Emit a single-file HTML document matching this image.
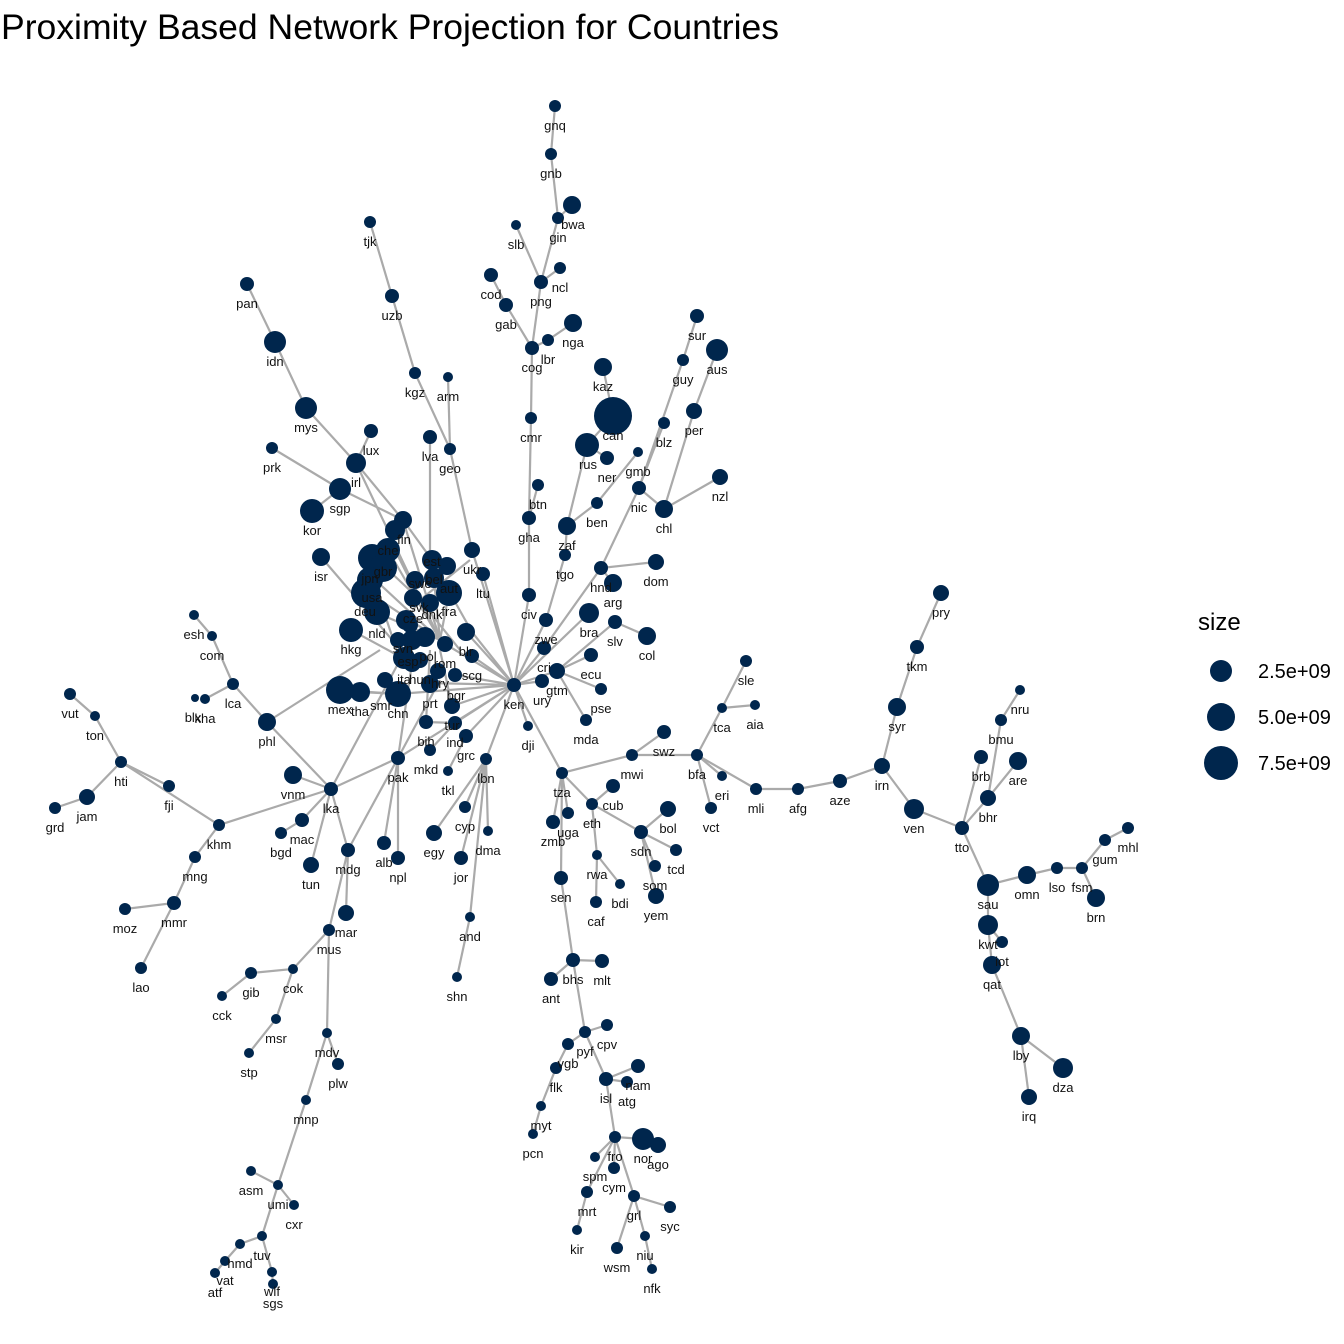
<!DOCTYPE html>
<html><head><meta charset="utf-8"><style>
body{margin:0;background:#fff}
svg{display:block}
text{font-family:"Liberation Sans",Arial,sans-serif}
.l{font-size:13px;fill:#111;text-anchor:middle}
</style></head><body>
<svg width="1344" height="1344" viewBox="0 0 1344 1344" xmlns="http://www.w3.org/2000/svg">
<rect width="1344" height="1344" fill="#fff"/>
<text x="1" y="39" font-size="35" fill="#000" textLength="778" lengthAdjust="spacingAndGlyphs">Proximity Based Network Projection for Countries</text>
<g stroke="#aaaaaa" stroke-width="2.2" fill="none">
<polyline points="514,685 529,595 529,518 531,418 532,348 541,282 558,218 551,154 555,106"/>
<line x1="541" y1="282" x2="516" y2="225"/><line x1="541" y1="282" x2="560" y2="268"/>
<line x1="558" y1="218" x2="572" y2="205"/>
<polyline points="532,348 506,305 491,275"/>
<polyline points="532,348 548,340 573,323"/>
<line x1="529" y1="518" x2="538" y2="485"/>
<polyline points="514,685 546,620 565,555 567,526 587,445 613,416 603,367"/>
<line x1="587" y1="445" x2="607" y2="458"/>
<polyline points="567,526 597,503 638,452"/>
<polyline points="514,685 544,648 601,568 613,583"/>
<line x1="601" y1="568" x2="656" y2="562"/>
<polyline points="601,568 639,488 664,423"/>
<polyline points="639,488 664,509 720,477"/>
<polyline points="664,509 694,411 717,350"/>
<polyline points="639,488 683,360 697,316"/>
<line x1="514" y1="685" x2="589" y2="613"/>
<line x1="514" y1="685" x2="557" y2="671"/>
<polyline points="557,671 615,622 647,636"/>
<line x1="557" y1="671" x2="591" y2="655"/>
<line x1="557" y1="671" x2="601" y2="689"/>
<line x1="557" y1="671" x2="586" y2="720"/>
<line x1="514" y1="685" x2="542" y2="681"/>
<polyline points="514,685 562,773 632,755 697,755 756,789 798,789 840,781 882,766 897,707 917,647 941,593"/>
<line x1="632" y1="755" x2="664" y2="732"/>
<polyline points="697,755 722,708 746,661"/><line x1="722" y1="708" x2="755" y2="705"/>
<line x1="697" y1="755" x2="722" y2="776"/><line x1="697" y1="755" x2="711" y2="808"/>
<polyline points="882,766 914,809 962,828 988,798 1001,720 1020,690"/>
<line x1="962" y1="828" x2="981" y2="757"/><line x1="988" y1="798" x2="1018" y2="761"/>
<polyline points="962,828 988,885 1027,875 1057,868 1082,868 1105,840 1128,828"/>
<line x1="1082" y1="868" x2="1096" y2="898"/>
<polyline points="988,885 988,925 992,965 1021,1036 1063,1068"/>
<line x1="988" y1="925" x2="1002" y2="942"/><line x1="1021" y1="1036" x2="1029" y2="1097"/>
<polyline points="562,773 592,804 641,832 668,809"/>
<line x1="592" y1="804" x2="613" y2="786"/>
<line x1="641" y1="832" x2="676" y2="850"/><line x1="641" y1="832" x2="655" y2="866"/><line x1="641" y1="832" x2="656" y2="896"/>
<polyline points="592,804 597,855 620,884"/><line x1="597" y1="855" x2="596" y2="902"/>
<line x1="562" y1="773" x2="568" y2="813"/><line x1="562" y1="773" x2="553" y2="822"/>
<polyline points="562,773 561,878 573,960 585,1032 606,1079 615,1137 643,1139 658,1145"/>
<line x1="573" y1="960" x2="551" y2="979"/><line x1="573" y1="960" x2="602" y2="961"/>
<line x1="585" y1="1032" x2="607" y2="1025"/>
<polyline points="585,1032 568,1044 556,1068 541,1106 533,1134"/>
<line x1="606" y1="1079" x2="638" y2="1066"/><line x1="606" y1="1079" x2="627" y2="1082"/>
<line x1="615" y1="1137" x2="595" y2="1157"/>
<polyline points="615,1137 634,1196 670,1207"/>
<polyline points="634,1196 645,1236 652,1269"/>
<polyline points="615,1137 587,1192 577,1230"/>
<line x1="634" y1="1196" x2="617" y2="1248"/>
<line x1="615" y1="1137" x2="614" y2="1168"/>
<polyline points="514,685 398,758 331,789 219,825 121,762 95,716 70,694"/>
<line x1="398" y1="758" x2="384" y2="843"/><line x1="398" y1="758" x2="398" y2="858"/>
<polyline points="331,789 348,850 329,930 327,1033 306,1100 278,1185 262,1236 240,1244 225,1261 215,1273"/>
<line x1="348" y1="850" x2="346" y2="913"/><line x1="398" y1="758" x2="348" y2="850"/>
<polyline points="329,930 293,969 251,973 222,996"/>
<polyline points="293,969 276,1019 249,1053"/>
<line x1="327" y1="1033" x2="338" y2="1064"/>
<line x1="278" y1="1185" x2="251" y2="1171"/><line x1="278" y1="1185" x2="294" y2="1205"/>
<polyline points="262,1236 272,1272 273,1284"/>
<polyline points="331,789 302,820 281,833"/><line x1="331" y1="789" x2="311" y2="865"/>
<line x1="331" y1="789" x2="293" y2="775"/>
<polyline points="331,789 267,722 233,684 212,636 194,615"/>
<line x1="233" y1="684" x2="205" y2="699"/>
<polyline points="121,762 87,797 55,808"/>
<line x1="121" y1="762" x2="169" y2="786"/>
<polyline points="219,825 195,857 174,903 125,909"/><line x1="174" y1="903" x2="141" y2="968"/>
<polyline points="514,685 486,759 488,831"/>
<line x1="486" y1="759" x2="465" y2="807"/><line x1="486" y1="759" x2="434" y2="833"/>
<line x1="486" y1="759" x2="461" y2="858"/>
<polyline points="486,759 470,917 457,977"/>
<line x1="514" y1="685" x2="528" y2="726"/>
<line x1="514" y1="685" x2="455" y2="723"/><line x1="514" y1="685" x2="466" y2="736"/>
<line x1="514" y1="685" x2="452" y2="706"/><line x1="466" y1="736" x2="448" y2="771"/>
<line x1="455" y1="723" x2="430" y2="750"/><line x1="455" y1="723" x2="426" y2="722"/>
<polyline points="514,685 472,632 450,593 432,560 403,520 356,463 306,408 275,342 247,284"/>
<line x1="356" y1="463" x2="371" y2="431"/><line x1="340" y1="489" x2="272" y2="448"/>
<line x1="403" y1="520" x2="340" y2="489"/><line x1="340" y1="489" x2="312" y2="511"/>
<polyline points="472,550 450,449 415,373 392,296 370,222"/>
<line x1="450" y1="449" x2="448" y2="377"/><line x1="430" y1="580" x2="430" y2="437"/>
<line x1="514" y1="685" x2="472" y2="550"/><line x1="514" y1="685" x2="483" y2="574"/>
<line x1="514" y1="685" x2="466" y2="632"/><line x1="514" y1="685" x2="472" y2="656"/>
<line x1="514" y1="685" x2="455" y2="675"/><line x1="514" y1="685" x2="430" y2="683"/>
<line x1="514" y1="685" x2="398" y2="694"/><line x1="514" y1="685" x2="445" y2="644"/>
<line x1="398" y1="694" x2="340" y2="690"/><line x1="398" y1="694" x2="360" y2="692"/>
<line x1="412" y1="663" x2="321" y2="557"/><line x1="412" y1="663" x2="351" y2="630"/>
<line x1="440" y1="640" x2="388" y2="550"/><line x1="440" y1="640" x2="370" y2="575"/>
<line x1="440" y1="640" x2="368" y2="592"/><line x1="440" y1="640" x2="375" y2="612"/>
<line x1="440" y1="640" x2="403" y2="520"/><line x1="440" y1="640" x2="356" y2="463"/>
<line x1="440" y1="640" x2="432" y2="560"/><line x1="440" y1="640" x2="449" y2="593"/>
<line x1="420" y1="600" x2="383" y2="565"/><line x1="420" y1="600" x2="406" y2="620"/>
<line x1="420" y1="600" x2="470" y2="560"/><line x1="420" y1="600" x2="460" y2="650"/>
<line x1="400" y1="660" x2="380" y2="600"/><line x1="430" y1="620" x2="390" y2="540"/>
<line x1="426" y1="722" x2="430" y2="650"/><line x1="452" y1="706" x2="440" y2="650"/>
<line x1="398" y1="758" x2="412" y2="663"/><line x1="398" y1="758" x2="440" y2="680"/>
<line x1="331" y1="789" x2="400" y2="660"/><line x1="267" y1="722" x2="380" y2="650"/>
</g>
<g fill="#00264d">
<circle cx="555" cy="106" r="6"/><circle cx="551" cy="154" r="6"/><circle cx="558" cy="218" r="6"/><circle cx="516" cy="225" r="5"/>
<circle cx="560" cy="268" r="6"/><circle cx="541" cy="282" r="7"/><circle cx="491" cy="275" r="7"/><circle cx="506" cy="305" r="7"/>
<circle cx="532" cy="348" r="7"/><circle cx="548" cy="340" r="6"/><circle cx="531" cy="418" r="6"/><circle cx="538" cy="485" r="6"/>
<circle cx="529" cy="518" r="7"/><circle cx="529" cy="595" r="7"/><circle cx="565" cy="555" r="6"/><circle cx="546" cy="620" r="7"/>
<circle cx="544" cy="648" r="7"/><circle cx="542" cy="681" r="7"/><circle cx="557" cy="671" r="8"/><circle cx="514" cy="685" r="7"/>
<circle cx="528" cy="726" r="5"/><circle cx="607" cy="458" r="7"/><circle cx="597" cy="503" r="6"/><circle cx="638" cy="452" r="5"/>
<circle cx="639" cy="488" r="7"/><circle cx="664" cy="423" r="6"/><circle cx="683" cy="360" r="6"/><circle cx="697" cy="316" r="7"/>
<circle cx="601" cy="568" r="7"/><circle cx="615" cy="622" r="7"/><circle cx="591" cy="655" r="7"/><circle cx="601" cy="689" r="6"/><circle cx="586" cy="720" r="6"/>
<circle cx="562" cy="773" r="6"/><circle cx="632" cy="755" r="6"/><circle cx="664" cy="732" r="7"/><circle cx="697" cy="755" r="6"/>
<circle cx="722" cy="708" r="5"/><circle cx="746" cy="661" r="6"/><circle cx="755" cy="705" r="5"/><circle cx="722" cy="776" r="5"/><circle cx="711" cy="808" r="6"/>
<circle cx="756" cy="789" r="6"/><circle cx="798" cy="789" r="6"/><circle cx="840" cy="781" r="7"/><circle cx="882" cy="766" r="8"/>
<circle cx="917" cy="647" r="7"/><circle cx="941" cy="593" r="8"/><circle cx="962" cy="828" r="7"/><circle cx="981" cy="757" r="7"/><circle cx="1001" cy="720" r="6"/><circle cx="1020" cy="690" r="5"/>
<circle cx="1057" cy="868" r="6"/><circle cx="1082" cy="868" r="6"/><circle cx="1105" cy="840" r="6"/><circle cx="1128" cy="828" r="6"/><circle cx="1002" cy="942" r="6"/>
<circle cx="592" cy="804" r="6"/><circle cx="613" cy="786" r="7"/><circle cx="641" cy="832" r="7"/><circle cx="676" cy="850" r="6"/><circle cx="655" cy="866" r="6"/>
<circle cx="597" cy="855" r="5"/><circle cx="620" cy="884" r="5"/><circle cx="596" cy="902" r="6"/><circle cx="568" cy="813" r="6"/><circle cx="553" cy="822" r="7"/>
<circle cx="561" cy="878" r="7"/><circle cx="573" cy="960" r="7"/><circle cx="551" cy="979" r="7"/><circle cx="602" cy="961" r="7"/><circle cx="585" cy="1032" r="6"/>
<circle cx="607" cy="1025" r="6"/><circle cx="568" cy="1044" r="6"/><circle cx="556" cy="1068" r="6"/><circle cx="541" cy="1106" r="5"/><circle cx="533" cy="1134" r="5"/>
<circle cx="606" cy="1079" r="7"/><circle cx="638" cy="1066" r="7"/><circle cx="627" cy="1082" r="6"/><circle cx="615" cy="1137" r="6"/><circle cx="595" cy="1157" r="5"/>
<circle cx="614" cy="1168" r="6"/><circle cx="634" cy="1196" r="6"/><circle cx="670" cy="1207" r="6"/><circle cx="645" cy="1236" r="5"/><circle cx="652" cy="1269" r="5"/>
<circle cx="587" cy="1192" r="6"/><circle cx="577" cy="1230" r="5"/><circle cx="617" cy="1248" r="6"/>
<circle cx="398" cy="758" r="7"/><circle cx="331" cy="789" r="7"/><circle cx="384" cy="843" r="7"/><circle cx="398" cy="858" r="7"/><circle cx="348" cy="850" r="7"/>
<circle cx="329" cy="930" r="6"/><circle cx="327" cy="1033" r="5"/><circle cx="306" cy="1100" r="5"/><circle cx="278" cy="1185" r="5"/><circle cx="251" cy="1171" r="5"/>
<circle cx="294" cy="1205" r="5"/><circle cx="262" cy="1236" r="5"/><circle cx="240" cy="1244" r="5"/><circle cx="225" cy="1261" r="5"/><circle cx="215" cy="1273" r="5"/>
<circle cx="272" cy="1272" r="5"/><circle cx="273" cy="1284" r="5"/><circle cx="293" cy="969" r="5"/><circle cx="251" cy="973" r="6"/><circle cx="222" cy="996" r="5"/>
<circle cx="276" cy="1019" r="5"/><circle cx="249" cy="1053" r="5"/><circle cx="338" cy="1064" r="6"/><circle cx="302" cy="820" r="7"/><circle cx="281" cy="833" r="6"/>
<circle cx="233" cy="684" r="6"/><circle cx="212" cy="636" r="5"/><circle cx="194" cy="615" r="5"/><circle cx="205" cy="699" r="5"/><circle cx="195" cy="698" r="4"/>
<circle cx="219" cy="825" r="6"/><circle cx="121" cy="762" r="6"/><circle cx="95" cy="716" r="5"/><circle cx="70" cy="694" r="6"/><circle cx="55" cy="808" r="6"/>
<circle cx="169" cy="786" r="6"/><circle cx="195" cy="857" r="6"/><circle cx="174" cy="903" r="7"/><circle cx="125" cy="909" r="6"/><circle cx="141" cy="968" r="6"/>
<circle cx="486" cy="759" r="6"/><circle cx="488" cy="831" r="5"/><circle cx="465" cy="807" r="6"/><circle cx="470" cy="917" r="5"/><circle cx="457" cy="977" r="5"/>
<circle cx="448" cy="771" r="5"/><circle cx="455" cy="723" r="7"/><circle cx="466" cy="736" r="7"/><circle cx="426" cy="722" r="7"/><circle cx="430" cy="750" r="6"/>
<circle cx="370" cy="222" r="6"/><circle cx="392" cy="296" r="7"/><circle cx="415" cy="373" r="6"/><circle cx="448" cy="377" r="5"/><circle cx="450" cy="449" r="6"/>
<circle cx="430" cy="437" r="7"/><circle cx="371" cy="431" r="7"/><circle cx="272" cy="448" r="6"/><circle cx="247" cy="284" r="7"/><circle cx="483" cy="574" r="7"/>
<circle cx="472" cy="656" r="7"/><circle cx="466" cy="632" r="9"/><circle cx="445" cy="644" r="8"/>
<circle cx="572" cy="205" r="9"/><circle cx="573" cy="323" r="9"/><circle cx="603" cy="367" r="9"/><circle cx="567" cy="526" r="9"/><circle cx="613" cy="583" r="9"/>
<circle cx="656" cy="562" r="8"/><circle cx="664" cy="509" r="9"/><circle cx="720" cy="477" r="8"/><circle cx="694" cy="411" r="8"/><circle cx="717" cy="350" r="11"/>
<circle cx="589" cy="613" r="10"/><circle cx="647" cy="636" r="9"/><circle cx="897" cy="707" r="9"/><circle cx="914" cy="809" r="10"/><circle cx="988" cy="798" r="8"/>
<circle cx="1018" cy="761" r="9"/><circle cx="1027" cy="875" r="9"/><circle cx="1096" cy="898" r="9"/><circle cx="988" cy="885" r="11"/><circle cx="988" cy="925" r="10"/>
<circle cx="992" cy="965" r="9"/><circle cx="1021" cy="1036" r="9"/><circle cx="1063" cy="1068" r="10"/><circle cx="1029" cy="1097" r="8"/>
<circle cx="668" cy="809" r="8"/><circle cx="656" cy="896" r="8"/><circle cx="658" cy="1145" r="8"/><circle cx="346" cy="913" r="8"/><circle cx="311" cy="865" r="8"/>
<circle cx="293" cy="775" r="9"/><circle cx="267" cy="722" r="9"/><circle cx="87" cy="797" r="8"/><circle cx="434" cy="833" r="8"/><circle cx="461" cy="858" r="7"/>
<circle cx="306" cy="408" r="11"/><circle cx="275" cy="342" r="11"/><circle cx="356" cy="463" r="10"/><circle cx="340" cy="489" r="11"/><circle cx="312" cy="511" r="12"/>
<circle cx="321" cy="557" r="9"/><circle cx="403" cy="520" r="9"/><circle cx="472" cy="550" r="8"/><circle cx="452" cy="706" r="8"/><circle cx="643" cy="1139" r="11"/>
<circle cx="613" cy="416" r="19"/><circle cx="587" cy="445" r="12"/>
<circle cx="388" cy="550" r="12"/><circle cx="372" cy="558" r="14"/><circle cx="383" cy="568" r="14"/><circle cx="370" cy="580" r="13"/>
<circle cx="366" cy="593" r="15"/><circle cx="377" cy="612" r="13"/><circle cx="351" cy="630" r="12"/><circle cx="406" cy="620" r="10"/>
<circle cx="340" cy="690" r="14"/><circle cx="360" cy="692" r="10"/><circle cx="398" cy="694" r="13"/><circle cx="385" cy="680" r="8"/>
<circle cx="432" cy="560" r="10"/><circle cx="447" cy="566" r="9"/><circle cx="434" cy="578" r="10"/><circle cx="449" cy="593" r="13"/>
<circle cx="415" cy="580" r="9"/><circle cx="430" cy="603" r="9"/><circle cx="413" cy="598" r="9"/><circle cx="410" cy="625" r="8"/>
<circle cx="425" cy="637" r="10"/><circle cx="412" cy="640" r="10"/><circle cx="404" cy="658" r="11"/><circle cx="412" cy="663" r="9"/>
<circle cx="438" cy="671" r="8"/><circle cx="430" cy="684" r="9"/><circle cx="455" cy="675" r="7"/><circle cx="420" cy="660" r="8"/>
<circle cx="398" cy="640" r="8"/><circle cx="395" cy="530" r="10"/>
</g>
<g class="l">
<text x="555" y="130">gnq</text><text x="551" y="178">gnb</text><text x="558" y="242">gin</text><text x="573" y="229">bwa</text><text x="516" y="249">slb</text>
<text x="560" y="292">ncl</text><text x="541" y="306">png</text><text x="491" y="299">cod</text><text x="506" y="329">gab</text><text x="532" y="372">cog</text>
<text x="548" y="364">lbr</text><text x="573" y="347">nga</text><text x="531" y="442">cmr</text><text x="538" y="509">btn</text><text x="529" y="542">gha</text>
<text x="529" y="619">civ</text><text x="565" y="579">tgo</text><text x="546" y="644">zwe</text><text x="544" y="672">cri</text><text x="542" y="705">ury</text>
<text x="557" y="695">gtm</text><text x="514" y="709">ken</text><text x="528" y="750">dji</text><text x="603" y="391">kaz</text><text x="613" y="440">can</text>
<text x="588" y="469">rus</text><text x="607" y="482">ner</text><text x="597" y="527">ben</text><text x="638" y="476">gmb</text><text x="639" y="512">nic</text>
<text x="664" y="447">blz</text><text x="683" y="384">guy</text><text x="697" y="340">sur</text><text x="717" y="374">aus</text><text x="694" y="435">per</text>
<text x="720" y="501">nzl</text><text x="664" y="533">chl</text><text x="567" y="550">zaf</text><text x="601" y="592">hnd</text><text x="613" y="607">arg</text>
<text x="656" y="586">dom</text><text x="589" y="637">bra</text><text x="615" y="646">slv</text><text x="647" y="660">col</text><text x="591" y="679">ecu</text>
<text x="601" y="713">pse</text><text x="586" y="744">mda</text><text x="562" y="797">tza</text><text x="632" y="779">mwi</text><text x="664" y="756">swz</text>
<text x="697" y="779">bfa</text><text x="722" y="732">tca</text><text x="746" y="685">sle</text><text x="755" y="729">aia</text><text x="722" y="800">eri</text>
<text x="711" y="832">vct</text><text x="756" y="813">mli</text><text x="798" y="813">afg</text><text x="840" y="805">aze</text><text x="882" y="790">irn</text>
<text x="897" y="731">syr</text><text x="917" y="671">tkm</text><text x="941" y="617">pry</text><text x="914" y="833">ven</text><text x="962" y="852">tto</text>
<text x="981" y="781">brb</text><text x="1001" y="744">bmu</text><text x="1020" y="714">nru</text><text x="1018" y="785">are</text><text x="988" y="822">bhr</text>
<text x="988" y="909">sau</text><text x="1027" y="899">omn</text><text x="1057" y="892">lso</text><text x="1082" y="892">fsm</text><text x="1105" y="864">gum</text>
<text x="1128" y="852">mhl</text><text x="1096" y="922">brn</text><text x="988" y="949">kwt</text><text x="1002" y="966">iot</text><text x="992" y="989">qat</text>
<text x="1021" y="1060">lby</text><text x="1063" y="1092">dza</text><text x="1029" y="1121">irq</text>
<text x="592" y="828">eth</text><text x="613" y="810">cub</text><text x="641" y="856">sdn</text><text x="668" y="833">bol</text><text x="676" y="874">tcd</text>
<text x="655" y="890">som</text><text x="656" y="920">yem</text><text x="597" y="879">rwa</text><text x="620" y="908">bdi</text><text x="596" y="926">caf</text>
<text x="568" y="837">uga</text><text x="553" y="846">zmb</text><text x="561" y="902">sen</text><text x="573" y="984">bhs</text><text x="551" y="1003">ant</text>
<text x="602" y="985">mlt</text><text x="585" y="1056">pyf</text><text x="607" y="1049">cpv</text><text x="568" y="1068">vgb</text><text x="556" y="1092">flk</text>
<text x="541" y="1130">myt</text><text x="533" y="1158">pcn</text><text x="606" y="1103">isl</text><text x="638" y="1090">nam</text><text x="627" y="1106">atg</text>
<text x="615" y="1161">fro</text><text x="643" y="1163">nor</text><text x="658" y="1169">ago</text><text x="595" y="1181">spm</text><text x="614" y="1192">cym</text>
<text x="634" y="1220">grl</text><text x="670" y="1231">syc</text><text x="645" y="1260">niu</text><text x="652" y="1293">nfk</text><text x="587" y="1216">mrt</text>
<text x="577" y="1254">kir</text><text x="617" y="1272">wsm</text>
<text x="398" y="782">pak</text><text x="331" y="813">lka</text><text x="384" y="867">alb</text><text x="398" y="882">npl</text><text x="348" y="874">mdg</text>
<text x="329" y="954">mus</text><text x="327" y="1057">mdv</text><text x="306" y="1124">mnp</text><text x="278" y="1209">umi</text><text x="251" y="1195">asm</text>
<text x="294" y="1229">cxr</text><text x="262" y="1260">tuv</text><text x="240" y="1268">hmd</text><text x="225" y="1285">vat</text><text x="215" y="1297">atf</text>
<text x="272" y="1296">wlf</text><text x="273" y="1308">sgs</text><text x="293" y="993">cok</text><text x="251" y="997">gib</text><text x="222" y="1020">cck</text>
<text x="276" y="1043">msr</text><text x="249" y="1077">stp</text><text x="338" y="1088">plw</text><text x="346" y="937">mar</text><text x="311" y="889">tun</text>
<text x="302" y="844">mac</text><text x="281" y="857">bgd</text><text x="293" y="799">vnm</text><text x="267" y="746">phl</text><text x="233" y="708">lca</text>
<text x="212" y="660">com</text><text x="194" y="639">esh</text><text x="205" y="723">kha</text><text x="193" y="722">blx</text><text x="219" y="849">khm</text>
<text x="121" y="786">hti</text><text x="95" y="740">ton</text><text x="70" y="718">vut</text><text x="87" y="821">jam</text><text x="55" y="832">grd</text>
<text x="169" y="810">fji</text><text x="195" y="881">mng</text><text x="174" y="927">mmr</text><text x="125" y="933">moz</text><text x="141" y="992">lao</text>
<text x="486" y="783">lbn</text><text x="488" y="855">dma</text><text x="465" y="831">cyp</text><text x="434" y="857">egy</text><text x="461" y="882">jor</text>
<text x="470" y="941">and</text><text x="457" y="1001">shn</text><text x="448" y="795">tkl</text><text x="455" y="747">ind</text><text x="466" y="760">grc</text>
<text x="426" y="746">bih</text><text x="426" y="774">mkd</text><text x="452" y="730">tur</text>
<text x="370" y="246">tjk</text><text x="392" y="320">uzb</text><text x="415" y="397">kgz</text><text x="448" y="401">arm</text><text x="450" y="473">geo</text>
<text x="430" y="461">lva</text><text x="371" y="455">lux</text><text x="272" y="472">prk</text><text x="247" y="308">pan</text><text x="275" y="366">idn</text>
<text x="306" y="432">mys</text><text x="356" y="487">irl</text><text x="340" y="513">sgp</text><text x="312" y="535">kor</text><text x="321" y="581">isr</text>
<text x="404" y="544">fin</text><text x="472" y="574">ukr</text><text x="483" y="598">ltu</text><text x="388" y="555">che</text><text x="383" y="576">gbr</text>
<text x="370" y="583">jpn</text><text x="372" y="602">usa</text><text x="365" y="616">deu</text><text x="377" y="638">nld</text><text x="351" y="654">hkg</text>
<text x="340" y="714">mex</text><text x="360" y="716">tha</text><text x="398" y="718">chn</text><text x="381" y="710">smr</text><text x="432" y="566">est</text>
<text x="434" y="584">bel</text><text x="449" y="593">aut</text><text x="449" y="616">fra</text><text x="420" y="588">swe</text><text x="432" y="619">dnk</text>
<text x="419" y="612">svk</text><text x="413" y="623">cze</text><text x="403" y="653">svn</text><text x="408" y="666">esp</text><text x="428" y="661">pol</text>
<text x="445" y="668">rom</text><text x="466" y="656">blr</text><text x="472" y="680">scg</text><text x="420" y="684">hun</text><text x="404" y="684">ita</text>
<text x="440" y="688">hry</text><text x="456" y="700">bgr</text><text x="430" y="708">prt</text>
</g>
<text x="1198" y="630" font-size="24" fill="#000">size</text>
<g fill="#00264d"><circle cx="1221" cy="671" r="11"/><circle cx="1221" cy="717" r="14"/><circle cx="1221" cy="763" r="17"/></g>
<g font-size="20" fill="#000"><text x="1258" y="678">2.5e+09</text><text x="1258" y="724">5.0e+09</text><text x="1258" y="770">7.5e+09</text></g>
</svg>
</body></html>
